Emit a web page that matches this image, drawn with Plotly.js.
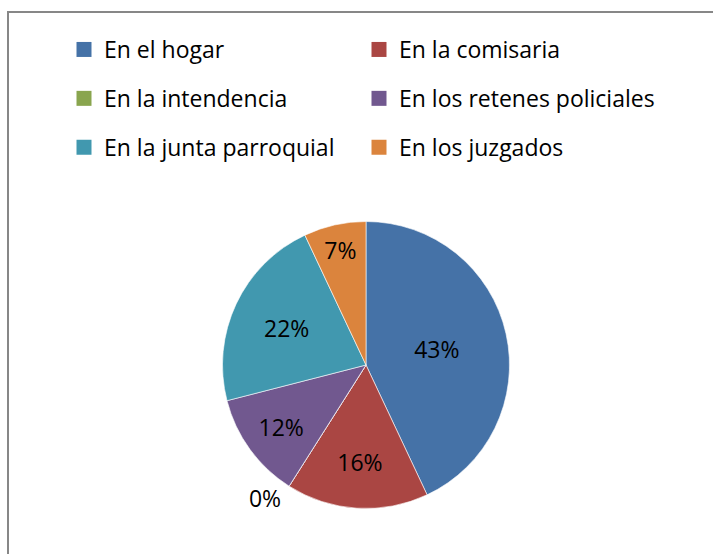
<!DOCTYPE html>
<html><head><meta charset="utf-8">
<script src="https://cdn.plot.ly/plotly-3.0.1.min.js"></script>
<style>
html,body{margin:0;padding:0;background:#fff;overflow:hidden;width:713px;height:554px}
#chart{position:absolute;left:0;top:0;width:713px;height:554px}
#frame{position:absolute;left:7px;top:11px;width:800px;height:800px;border:2px solid #878787;pointer-events:none;box-sizing:border-box}
</style></head><body>
<div id="chart"></div><div id="frame"></div>
<script>
const categories = ["En el hogar","En la comisaria","En la intendencia","En los retenes policiales","En la junta parroquial","En los juzgados"];
const percentages = [43,16,0,12,22,7];
const sliceColors = ["#4572A7","#AA4643","#89A54E","#71588F","#4198AF","#DB843D"];

const W=713,H=554;
const cx=366, cy=365, r=143.5;
const FONT='Open Sans';
const domain = {x:[(cx-r)/W,(cx+r)/W], y:[1-(cy+r)/H,1-(cy-r)/H]};

const pie = {
  type:'pie',
  labels: categories,
  values: percentages,
  sort:false,
  direction:'clockwise',
  rotation:0,
  domain: domain,
  marker:{colors:sliceColors, line:{color:'#ffffff', width:0.6}},
  textinfo:'percent',
  textposition: percentages.map(v => v===0 ? 'outside' : 'inside'),
  insidetextorientation:'horizontal',
  textfont:{family:FONT, size:23, color:'#000'},
  showlegend:false,
  hoverinfo:'label+percent'
};

// legend entries (two columns), one per category, same colours as the slices
const legendTraces = categories.map((c,i) => ({
  type:'scatter', mode:'markers', x:[null], y:[null],
  name:c, legendgroup:'g'+i,
  legend: (i % 2 === 0) ? 'legend' : 'legend2',
  marker:{symbol:'square', size:15, color:sliceColors[i]},
  showlegend:true, hoverinfo:'skip'
}));

const legCommon = {orientation:'v', xanchor:'left', yanchor:'top', traceorder:'grouped',
  tracegroupgap:16, font:{family:FONT, size:23, color:'#000'}, bgcolor:'rgba(0,0,0,0)'};

const layout = {
  width:W, height:H,
  margin:{l:0,r:0,t:0,b:0},
  paper_bgcolor:'#fff', plot_bgcolor:'rgba(0,0,0,0)',
  xaxis:{visible:false}, yaxis:{visible:false},
  showlegend:true,
  legend:Object.assign({}, legCommon, {x:64/W, y:1-28/H}),
  legend2:Object.assign({}, legCommon, {x:359/W, y:1-28/H}),
  font:{family:FONT}
};
Plotly.newPlot('chart',[pie].concat(legendTraces),layout,{displayModeBar:false,staticPlot:true});
</script></body></html>
